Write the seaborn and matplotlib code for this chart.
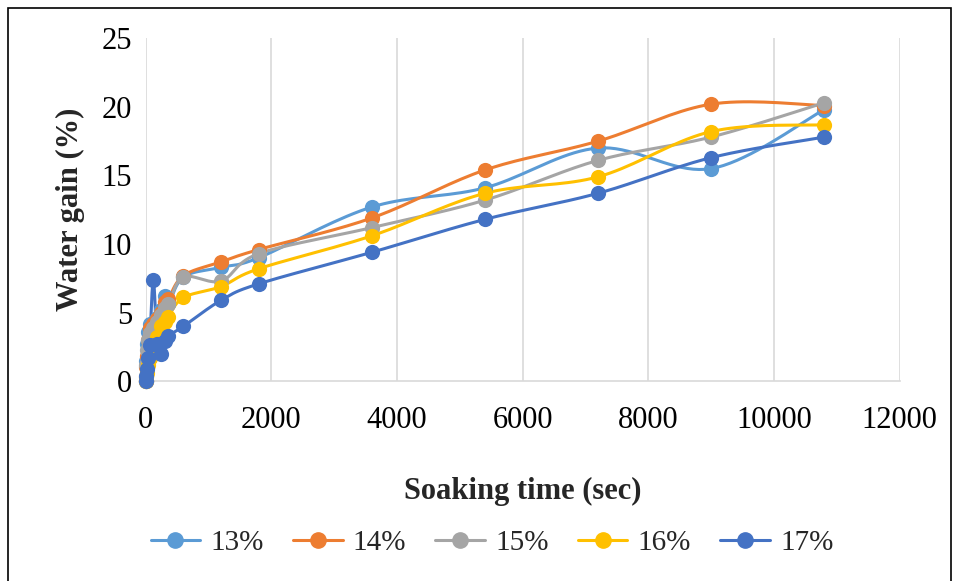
import numpy as np
import pandas as pd
import matplotlib
matplotlib.use("Agg")
import matplotlib.pyplot as plt
from matplotlib.lines import Line2D
from matplotlib.patches import Rectangle
import seaborn as sns

# soaking time (sec) and water gain (%) per moisture level
times = [0, 10, 20, 30, 60, 120, 180, 240, 300, 360, 600, 1200, 1800, 3600, 5400, 7200, 9000, 10800]
gain_13 = [0, 1.5, 2.7, 3.6, 4.2, 3.8, 4.6, 5.2, 6.2, 5.6, 7.6, 8.3, 9.0, 12.7, 14.1, 17.0, 15.5, 19.8]
gain_14 = [0, 1.0, 1.8, 3.0, 3.9, 4.2, 4.5, 5.0, 5.8, 6.0, 7.7, 8.7, 9.6, 11.9, 15.4, 17.5, 20.2, 20.1]
gain_15 = [0, 1.2, 2.3, 3.0, 3.5, 3.9, 4.3, 4.8, 5.3, 5.6, 7.6, 7.3, 9.3, 11.2, 13.2, 16.1, 17.8, 20.3]
gain_16 = [0, 0.3, 0.6, 1.2, 1.7, 2.5, 3.2, 4.0, 4.3, 4.7, 6.1, 6.9, 8.2, 10.6, 13.7, 14.9, 18.2, 18.7]
gain_17 = [0, 0.4, 0.9, 1.7, 2.6, 7.4, 2.7, 2.0, 2.9, 3.3, 4.0, 5.9, 7.1, 9.4, 11.8, 13.7, 16.3, 17.8]

labels = ["13%", "14%", "15%", "16%", "17%"]
series = [gain_13, gain_14, gain_15, gain_16, gain_17]
colors = ["#5B9BD5", "#ED7D31", "#A5A5A5", "#FFC000", "#4472C4"]

df = pd.concat([pd.DataFrame({"time": times, "gain": s, "level": lab})
                for lab, s in zip(labels, series)], ignore_index=True)


def smooth(x, y, sx, sy, n=20):
    # excel-like smoothed line: cardinal bezier in screen-scaled space
    px = np.asarray(x, float) * sx
    py = np.asarray(y, float) * sy
    pts = np.column_stack([px, py])
    out = [pts[0]]
    for i in range(len(pts) - 1):
        p0 = pts[i - 1] if i > 0 else pts[i]
        p1, p2 = pts[i], pts[i + 1]
        p3 = pts[i + 2] if i + 2 < len(pts) else pts[i + 1]
        c1 = p1 + (p2 - p0) / 6
        c2 = p2 - (p3 - p1) / 6
        t = np.linspace(0, 1, n)[1:, None]
        b = ((1 - t) ** 3) * p1 + 3 * ((1 - t) ** 2) * t * c1 + 3 * (1 - t) * t ** 2 * c2 + t ** 3 * p2
        out.extend(b)
    out = np.array(out)
    return out[:, 0] / sx, out[:, 1] / sy


sns.set_style("white")
plt.rcParams["font.family"] = ["Liberation Serif", "DejaVu Serif"]

fig = plt.figure(figsize=(9.59, 5.81), dpi=100)
ax = fig.add_axes([0.152, 0.344, 0.786, 0.590])

sx = 754 / 12000
sy = 343 / 25
for lab, s, c in zip(labels, series, colors):
    xs, ys = smooth(times, s, sx, sy)
    ax.plot(xs, ys, color=c, lw=2.2, zorder=2, solid_capstyle="round", clip_on=False)
    sns.scatterplot(data=df[df["level"] == lab], x="time", y="gain", color=c,
                    s=120, edgecolor=c, linewidth=0, ax=ax, zorder=3, legend=False,
                    clip_on=False)

ax.set_xlim(0, 12000)
ax.set_ylim(0, 25)
ax.set_xticks(range(0, 12001, 2000))
ax.set_yticks(range(0, 26, 5))
ax.xaxis.grid(True, color="#D9D9D9", lw=1.2)
ax.yaxis.grid(False)
for sp in ["top", "right", "left"]:
    ax.spines[sp].set_visible(False)
ax.spines["bottom"].set_color("#D9D9D9")
ax.spines["bottom"].set_linewidth(1.2)
ax.tick_params(axis="both", length=0, labelsize=22, colors="black")
ax.tick_params(axis="x", pad=18)
ax.tick_params(axis="y", pad=10)
ax.set_xlabel("Soaking time (sec)", fontsize=22, fontweight="bold", labelpad=30)
ax.set_ylabel("Water gain (%)", fontsize=22, fontweight="bold", labelpad=12)

handles = [Line2D([0], [0], color=c, lw=2.2, marker="o", markersize=11) for c in colors]
fig.legend(handles, labels, loc="center", bbox_to_anchor=(0.513, 0.066), ncol=5,
           frameon=False, fontsize=21, handlelength=1.7, columnspacing=1.0, handletextpad=0.35)

fig.patches.append(Rectangle((8 / 959, -0.01), 943 / 959, 1.0 - 8 / 581 + 0.01,
                             transform=fig.transFigure, fill=False, edgecolor="black", lw=1.2))

fig.savefig("out.png", dpi=100)
